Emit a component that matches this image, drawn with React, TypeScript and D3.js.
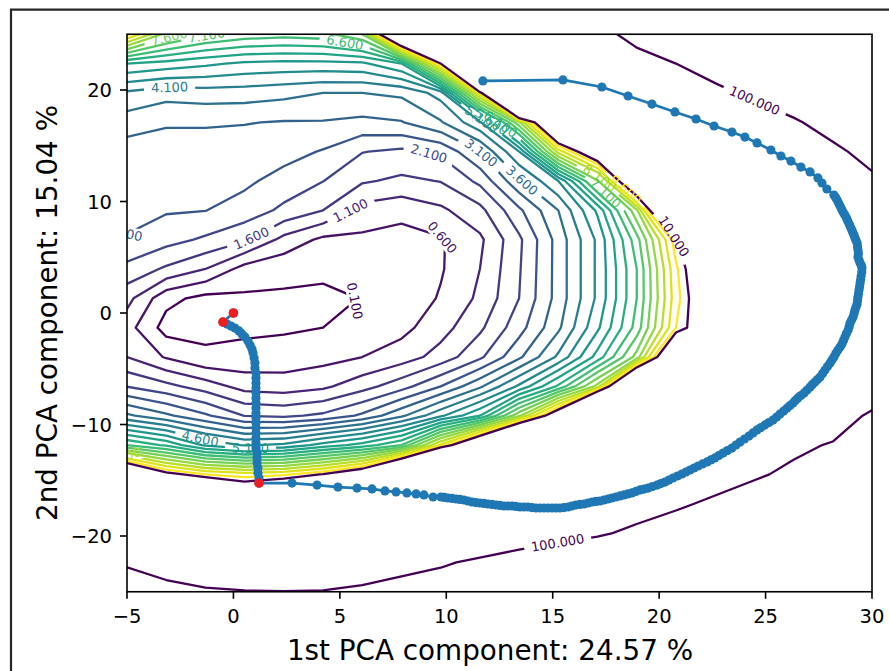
import * as d3 from 'd3';

// loss surface sampled on a 20 x 20 grid, x from -5 to 30, rows from y = 25 (top) to y = -25
const lossGrid = [
  [9.7, 7.9, 7.2, 6.9, 6.8, 6.9, 7.6, 13, 22, 36, 52, 70, 90, 110, 128, 145, 162, 178, 194, 210],
  [5.6, 5.4, 5.2, 5.0, 4.95, 4.95, 5.0, 5.6, 9.95, 30, 45, 60, 75, 88, 100, 112, 125, 138, 150, 162],
  [4.01, 3.8, 3.87, 3.85, 3.75, 3.6, 3.6, 3.7, 4.3, 9.4, 22, 38, 54, 68, 83, 94, 105, 116, 127, 138],
  [3.35, 3.15, 3.15, 3.12, 3.07, 3.07, 2.98, 3.07, 3.55, 4.5, 8.0, 13, 28, 45, 60, 74, 86, 97, 110, 122],
  [2.85, 2.89, 2.89, 2.9, 2.79, 2.56, 2.12, 1.99, 2.2, 3.1, 4.6, 8.8, 11.2, 22, 36, 50, 63, 76, 95, 108],
  [2.76, 2.75, 2.74, 2.7, 2.41, 2.11, 1.66, 1.5, 1.62, 2.22, 3.5, 4.6, 7.5, 12.1, 22, 36, 50, 64, 80, 96],
  [2.68, 2.65, 2.61, 2.39, 1.99, 1.6, 0.9, 0.75, 1.0, 1.45, 2.5, 3.6, 5.2, 8.0, 14, 24, 36, 49, 63, 78],
  [2.58, 2.28, 2.02, 1.68, 0.94, 0.49, 0.5, 0.42, 0.55, 1.0, 2.0, 3.3, 4.7, 6.9, 9.9, 13, 20, 30, 42, 56],
  [1.94, 1.52, 1.1, 0.4, 0.24, 0.14, 0.2, 0.3, 0.55, 1.1, 2.05, 3.3, 4.7, 6.6, 9.5, 11.5, 18, 27, 38, 50],
  [1.27, 0.25, -0.05, 0.02, 0.03, 0.06, 0.105, 0.25, 0.65, 1.2, 2.1, 3.3, 4.7, 6.6, 9.4, 11.2, 17, 25, 35, 47],
  [0.8, -0.1, 0.0, 0.0, 0.03, 0.1, 0.2, 0.45, 0.9, 1.5, 2.4, 3.5, 5.0, 6.8, 9.6, 11, 16, 24, 34, 45],
  [1.1, 0.55, 0.17, 0.26, 0.33, 0.43, 0.6, 0.85, 1.3, 2.0, 3.0, 4.2, 5.8, 7.8, 12, 17, 24, 32, 42, 54],
  [2.08, 1.75, 1.36, 0.91, 0.84, 1.0, 1.4, 1.9, 2.6, 3.5, 4.7, 6.2, 8.3, 14, 20, 27, 35, 45, 56, 70],
  [3.7, 3.2, 2.68, 2.08, 2.0, 2.2, 2.7, 3.5, 4.5, 5.6, 8.0, 11, 18, 26, 35, 45, 56, 68, 78, 107],
  [6.6, 6.0, 5.0, 4.55, 4.7, 5.3, 5.8, 6.6, 9.2, 12, 16, 21, 28, 37, 48, 61, 76, 92, 103, 115],
  [12.15, 10.3, 9.6, 9.35, 9.5, 10.05, 11, 14, 19, 25, 33, 42, 52, 58, 70, 82, 95, 108, 120, 133],
  [30, 25, 14, 12, 13, 16, 21, 28, 35, 43, 52, 61, 71, 82, 94, 107, 120, 134, 148, 162],
  [55, 48, 42, 38, 38, 41, 46, 53, 61, 70, 79, 87, 95, 108, 120, 133, 146, 160, 174, 188],
  [97, 88, 82, 78, 78, 81, 86, 91, 96, 106, 116, 126, 137, 148, 160, 172, 184, 196, 208, 220],
  [115, 108, 103, 101, 100.5, 101, 104, 110, 118, 128, 138, 148, 158, 170, 182, 194, 206, 218, 230, 242],
];

const levels = [0.1, 0.6, 1.1, 1.6, 2.1, 2.6, 3.1, 3.6, 4.1, 4.6, 5.1, 5.6, 6.1, 6.6, 7.1, 7.6, 8.1, 8.6, 9.1, 9.6];
const outerLevels = [10, 100];

const xTicks = [-5, 0, 5, 10, 15, 20, 25, 30];
const yTicks = [-20, -10, 0, 10, 20];

// inline contour labels: level, rough spot, shift along the line (px)
const labelLevel = [0.1, 0.6, 1.1, 1.6, 2.1, 2.6, 3.1, 3.6, 4.1, 4.6, 5.1, 7.6, 7.1, 6.6, 8.6, 5.1, 5.6, 6.1, 8.1, 7.1, 9.6, 10, 100, 100];
const labelX = [5.65, 9.7, 5.5, 0.9, 9.2, -5, 11.6, 13.6, -3.0, -1.6, 0.8, -3.0, -1.25, 5.3, -5, 11.7, 12.1, 12.5, 17.1, 17.5, 18.4, 20.65, 24.5, 15.25];
const labelY = [1.2, 6.5, 9.2, 6.5, 14.4, 6.9, 14.3, 12.0, 20.15, -11.6, -12.1, 24.6, 24.6, 24.95, -12.5, 17.5, 17.1, 16.8, 11.9, 10.8, 11.0, 6.8, 19.1, -20.8];
const labelShift = [0, 0, 0, 0, 0, -3, 0, 0, 0, 0, 0, 0, 0, 0, -4, 0, 0, 0, 0, 0, 0, 0, 0, 0];

// optimisation trajectory projected on the two PCA directions
const trajX = [
  11.72, 15.48, 17.31, 18.54, 19.66, 20.74, 21.73, 22.58, 23.42, 24.03, 24.6, 25.25, 25.72, 26.19, 26.66, 27.09, 27.46, 27.65, 27.88,
  28.21, 28.29, 28.36, 28.43, 28.5, 28.57, 28.64, 28.71, 28.78, 28.83, 28.88, 28.95, 29.01, 29.06, 29.11, 29.16, 29.2, 29.25, 29.3, 29.32,
  29.34, 29.36, 29.34, 29.39, 29.44, 29.5, 29.53, 29.52, 29.49, 29.47, 29.44, 29.42, 29.39, 29.37, 29.34, 29.32, 29.3, 29.25, 29.2, 29.16,
  29.11, 29.04, 28.97, 28.93, 28.88, 28.8, 28.73, 28.66, 28.59, 28.5, 28.4, 28.3, 28.21, 28.12, 28.03, 27.91, 27.79, 27.68, 27.56, 27.44,
  27.32, 27.2, 27.09, 26.95, 26.81, 26.66, 26.52, 26.4, 26.29, 26.15, 26.01, 25.85, 25.68, 25.52, 25.35, 25.16, 24.97, 24.78, 24.6, 24.41,
  24.22, 24.01, 23.8, 23.61, 23.42, 23.21, 23.0, 22.81, 22.62, 22.43, 22.25, 22.04, 21.83, 21.64, 21.45, 21.26, 21.07, 20.86, 20.65, 20.46,
  20.27, 20.08, 19.9, 19.69, 19.48, 19.29, 19.1, 18.91, 18.72, 18.53, 18.35, 18.16, 17.97, 17.78, 17.6, 17.41, 17.22, 17.03, 16.85, 16.66,
  16.47, 16.28, 16.09, 15.9, 15.72, 15.53, 15.34, 15.15, 14.97, 14.78, 14.59, 14.4, 14.21, 14.02, 13.84, 13.65, 13.46, 13.27, 13.09, 12.9,
  12.71, 12.52, 12.34, 12.15, 11.96, 11.77, 11.58, 11.39, 11.21, 11.02, 10.83, 10.64, 10.46, 10.27, 10.08, 9.91, 9.75, 9.38, 8.95, 8.58,
  8.15, 7.64, 7.12, 6.51, 5.81, 4.91, 3.93, 2.75, 1.2,
  1.2, 1.15, 1.15, 1.11, 1.11, 1.11, 1.06, 1.06, 1.06, 1.06, 1.06, 1.06, 1.06, 1.06, 1.06, 1.06, 1.06, 1.06, 1.06, 1.06,
  1.06, 1.06, 1.01, 1.01, 0.97, 0.92, 0.87, 0.78, 0.68, 0.54, 0.4, 0.26, 0.07, -0.11, -0.3, -0.49, 0.0,
];
const trajY = [
  20.81, 20.9, 20.27, 19.46, 18.74, 18.03, 17.4, 16.77, 16.23, 15.78, 15.25, 14.62, 14.08, 13.63, 13.09, 12.65, 12.11, 11.66, 11.12,
  10.58, 10.36, 10.13, 9.87, 9.6, 9.33, 9.06, 8.84, 8.61, 8.39, 8.16, 7.89, 7.62, 7.4, 7.17, 6.95, 6.73, 6.51, 6.28, 5.97,
  5.65, 5.34, 5.02, 4.75, 4.48, 4.26, 4.04, 3.68, 3.32, 3.0, 2.69, 2.38, 2.06, 1.75, 1.43, 1.12, 0.81, 0.54, 0.27, -0.05,
  -0.36, -0.63, -0.9, -1.21, -1.52, -1.84, -2.15, -2.47, -2.78, -3.05, -3.32, -3.64, -3.95, -4.22, -4.48, -4.8, -5.11, -5.43, -5.74, -5.97,
  -6.19, -6.42, -6.64, -6.91, -7.17, -7.4, -7.62, -7.85, -8.07, -8.3, -8.52, -8.79, -9.06, -9.33, -9.6, -9.82, -10.04, -10.27, -10.49, -10.76,
  -11.03, -11.3, -11.57, -11.84, -12.11, -12.34, -12.56, -12.78, -13.0, -13.18, -13.36, -13.54, -13.72, -13.9, -14.08, -14.26, -14.44, -14.62, -14.8, -14.98,
  -15.16, -15.3, -15.43, -15.57, -15.7, -15.79, -15.87, -16.0, -16.14, -16.23, -16.32, -16.41, -16.5, -16.59, -16.68, -16.77, -16.86, -16.9, -16.95, -17.04,
  -17.13, -17.17, -17.22, -17.31, -17.4, -17.45, -17.49, -17.49, -17.49, -17.49, -17.49, -17.49, -17.49, -17.45, -17.4, -17.4, -17.4, -17.35, -17.31, -17.31,
  -17.31, -17.26, -17.22, -17.17, -17.13, -17.08, -17.04, -17.0, -16.95, -16.86, -16.77, -16.72, -16.68, -16.63, -16.59, -16.54, -16.5, -16.5, -16.32, -16.23,
  -16.14, -16.05, -15.96, -15.78, -15.7, -15.61, -15.43, -15.25, -15.25,
  -14.8, -14.35, -13.9, -13.45, -13.0, -12.56, -12.11, -11.66, -11.21, -10.76, -10.31, -9.87, -9.42, -8.97, -8.52, -8.07, -7.62, -7.17, -6.73, -6.28,
  -5.83, -5.38, -4.93, -4.48, -4.04, -3.59, -3.23, -2.87, -2.51, -2.15, -1.88, -1.61, -1.35, -1.17, -0.99, -0.81, 0.0,
];
const redX = [1.2, -0.49, 0.0];
const redY = [-15.25, -0.81, 0.0];

const FONT = '"DejaVu Sans", sans-serif';
const LEFT = 127, RIGHT = 872, TOP = 34.25, BOTTOM = 591.75;
const LABEL_SIZE = 13;

function textWidth(s: string, size: number) {
  let w = 0;
  for (const ch of s) w += ch === '.' ? 0.318 : 0.636;
  return w * size;
}

function pointAt(pts: number[][], cum: number[], s: number) {
  if (s <= 0) return pts[0];
  const last = cum[cum.length - 1];
  if (s >= last) return pts[pts.length - 1];
  let i = 1;
  while (cum[i] < s) i++;
  const f = (s - cum[i - 1]) / (cum[i] - cum[i - 1] || 1);
  return [pts[i - 1][0] + f * (pts[i][0] - pts[i - 1][0]), pts[i - 1][1] + f * (pts[i][1] - pts[i - 1][1])];
}

export default function App() {
  const x = d3.scaleLinear().domain([-5, 30]).range([LEFT, RIGHT]);
  const y = d3.scaleLinear().domain([-25, 25]).range([BOTTOM, TOP]);
  const n = lossGrid.length;
  const m = lossGrid[0].length;

  // grid coordinates of d3.contours -> data -> pixels
  const gx = (c: number) => x(-5 + ((c - 0.5) * 35) / (m - 1));
  const gy = (r: number) => y(25 - ((r - 0.5) * 50) / (n - 1));
  const proj = d3.geoTransform({
    point(px: number, py: number) {
      (this as any).stream.point(gx(px), gy(py));
    },
  });
  const geo = d3.geoPath(proj);

  const allLevels = [...levels, ...outerLevels];
  const colorOf = (lv: number) => {
    const k = levels.indexOf(lv);
    return k >= 0 ? d3.interpolateViridis(k / (levels.length - 1)) : '#440154';
  };
  const contours = d3.contours().size([m, n]).thresholds(allLevels)(lossGrid.flat());

  // put a label on the nearest stretch of its line, turned along the line over the label's length
  const place = (geom: any, tx: number, ty: number, w: number) => {
    let best: any = { d: Infinity };
    for (const poly of geom.coordinates)
      for (const ring of poly) {
        const pts = ring.map((p: number[]) => [gx(p[0]), gy(p[1])]);
        const cum = [0];
        for (let i = 1; i < pts.length; i++)
          cum.push(cum[i - 1] + Math.hypot(pts[i][0] - pts[i - 1][0], pts[i][1] - pts[i - 1][1]));
        for (let i = 0; i < pts.length - 1; i++) {
          const [x1, y1] = pts[i];
          const [x2, y2] = pts[i + 1];
          const mx = (x1 + x2) / 2, my = (y1 + y2) / 2;
          if (mx < LEFT || mx > RIGHT || my < TOP || my > BOTTOM) continue;
          const dx = x2 - x1, dy = y2 - y1;
          const L2 = dx * dx + dy * dy;
          if (!L2) continue;
          let t = ((tx - x1) * dx + (ty - y1) * dy) / L2;
          t = Math.max(0, Math.min(1, t));
          const qx = x1 + t * dx, qy = y1 + t * dy;
          const d = (qx - tx) ** 2 + (qy - ty) ** 2;
          if (d < best.d) best = { d, x: qx, y: qy, s: cum[i] + t * Math.sqrt(L2), pts, cum };
        }
      }
    const p1 = pointAt(best.pts, best.cum, best.s - w / 2);
    const p2 = pointAt(best.pts, best.cum, best.s + w / 2);
    let a = (Math.atan2(p2[1] - p1[1], p2[0] - p1[0]) * 180) / Math.PI;
    if (a > 90) a -= 180;
    if (a <= -90) a += 180;
    if (Math.abs(a) > 75) a = Math.abs(a); // near-vertical labels read downwards
    return { x: best.x, y: best.y, a };
  };

  const labels = labelLevel.map((lv, i) => {
    const geom = contours[allLevels.indexOf(lv)];
    const text = lv.toFixed(3);
    const w = textWidth(text, LABEL_SIZE);
    const s = place(geom, x(labelX[i]), y(labelY[i]), w);
    const rad = (s.a * Math.PI) / 180;
    return {
      lv,
      text,
      cx: s.x + labelShift[i] * Math.cos(rad),
      cy: s.y + labelShift[i] * Math.sin(rad),
      a: s.a,
      w,
    };
  });

  const line = d3
    .line<number>()
    .x((_, i) => x(trajX[i]))
    .y((_, i) => y(trajY[i]));

  return (
    <svg width={889} height={671} style={{ display: 'block' }} fontFamily={FONT}>
      <style>{'body{margin:0}'}</style>
      <rect width={889} height={671} fill="#fff" />
      <path d="M11,671 L11,9.7 L889,9.7" fill="none" stroke="#262626" strokeWidth={2.2} />
      <defs>
        <clipPath id="axes-clip">
          <rect x={LEFT} y={TOP} width={RIGHT - LEFT} height={BOTTOM - TOP} />
        </clipPath>
        {allLevels.map((lv, k) => (
          <mask key={k} id={`gap-${k}`} maskUnits="userSpaceOnUse" x={0} y={0} width={889} height={671}>
            <rect width={889} height={671} fill="#fff" />
            {labels
              .filter((l) => l.lv === lv)
              .map((l, j) => (
                <rect
                  key={j}
                  x={l.cx - l.w / 2 - 7}
                  y={l.cy - 7}
                  width={l.w + 14}
                  height={14}
                  fill="#000"
                  transform={`rotate(${l.a},${l.cx},${l.cy})`}
                />
              ))}
          </mask>
        ))}
      </defs>

      <g clipPath="url(#axes-clip)">
        {contours.map((c, k) => (
          <path
            key={k}
            d={geo(c as any) || ''}
            fill="none"
            stroke={colorOf(allLevels[k])}
            strokeWidth={2.3}
            strokeLinejoin="round"
            mask={`url(#gap-${k})`}
          />
        ))}
        {labels.map((l, i) => (
          <text
            key={i}
            x={l.cx}
            y={l.cy}
            fontSize={LABEL_SIZE}
            fill={colorOf(l.lv)}
            textAnchor="middle"
            dominantBaseline="central"
            transform={`rotate(${l.a},${l.cx},${l.cy})`}
          >
            {l.text}
          </text>
        ))}
        <path d={line(trajX) || ''} fill="none" stroke="#1f77b4" strokeWidth={2.7} />
        {trajX.map((v, i) => (
          <circle key={i} cx={x(v)} cy={y(trajY[i])} r={4.6} fill="#1f77b4" />
        ))}
        {redX.map((v, i) => (
          <circle key={i} cx={x(v)} cy={y(redY[i])} r={4.8} fill="#ef1f1f" />
        ))}
      </g>

      <rect x={LEFT} y={TOP} width={RIGHT - LEFT} height={BOTTOM - TOP} fill="none" stroke="#000" strokeWidth={1.6} />

      {xTicks.map((t) => (
        <g key={t} transform={`translate(${x(t)},${BOTTOM})`}>
          <line y2={7} stroke="#000" strokeWidth={1.6} />
          <text y={31} fontSize={19.5} textAnchor="middle" fill="#000">
            {d3.format('d')(t)}
          </text>
        </g>
      ))}
      {yTicks.map((t) => (
        <g key={t} transform={`translate(${LEFT},${y(t)})`}>
          <line x2={-7} stroke="#000" strokeWidth={1.6} />
          <text x={-15} y={7} fontSize={19.5} textAnchor="end" fill="#000">
            {d3.format('d')(t)}
          </text>
        </g>
      ))}

      <text x={490} y={660} fontSize={27.8} textAnchor="middle" fill="#000">
        1st PCA component: 24.57 %
      </text>
      <text
        transform={`translate(57,${(TOP + BOTTOM) / 2}) rotate(-90)`}
        fontSize={27.8}
        textAnchor="middle"
        fill="#000"
      >
        2nd PCA component: 15.04 %
      </text>
    </svg>
  );
}
